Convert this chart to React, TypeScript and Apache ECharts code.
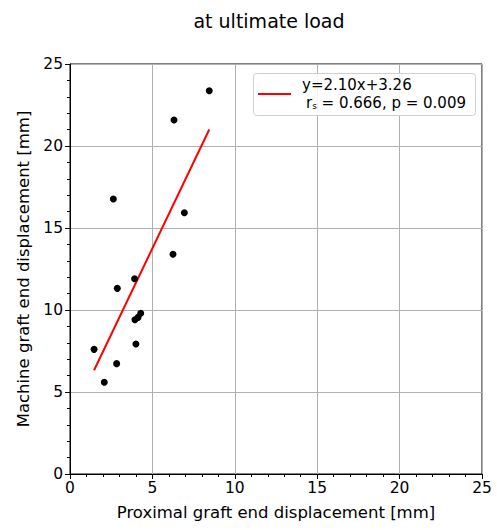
import React, { useEffect, useRef } from "react";
import * as echarts from "echarts";

// Measured displacements at ultimate load [mm]
const proximal = [8.45, 6.31, 2.63, 6.94, 6.25, 3.92, 2.87, 4.29, 4.13, 3.94, 4.0, 1.46, 2.83, 2.08];
const machine = [23.37, 21.58, 16.77, 15.93, 13.4, 11.91, 11.32, 9.8, 9.55, 9.41, 7.93, 7.6, 6.73, 5.59];

// Linear fit and Spearman statistics
const slope = 2.1;
const intercept = 3.26;
const rs = 0.666;
const pValue = 0.009;

const axisTicks = [0, 5, 10, 15, 20, 25];

const FONT = "DejaVu Sans";

export default function App() {
  const ref = useRef<HTMLDivElement>(null);

  useEffect(() => {
    if (!ref.current) return;
    const chart = echarts.init(ref.current, undefined, { renderer: "svg" });

    const points = proximal.map((x, i) => [x, machine[i]]);
    const xMin = Math.min(...proximal);
    const xMax = Math.max(...proximal);
    const fitLine = [
      [xMin, slope * xMin + intercept],
      [xMax, slope * xMax + intercept],
    ];

    const axisCommon = {
      min: axisTicks[0],
      max: axisTicks[axisTicks.length - 1],
      interval: 5,
      axisLine: { show: true, onZero: false, lineStyle: { color: "#000", width: 1 } },
      axisTick: { show: true, length: 5, inside: false, lineStyle: { color: "#000" } },
      minorTick: { show: true, splitNumber: 5, length: 3, lineStyle: { color: "#000" } },
      splitLine: { show: true, lineStyle: { color: "#b0b0b0", width: 1 } },
      axisLabel: { fontFamily: FONT, fontSize: 15.5, color: "#000" },
      nameLocation: "middle" as const,
      nameTextStyle: { fontFamily: FONT, fontSize: 16.5, color: "#000" },
    };

    chart.setOption({
      animation: false,
      grid: {
        left: 70,
        right: 15,
        top: 64,
        bottom: 56,
        show: true,
        borderColor: "#000",
        borderWidth: 1,
        backgroundColor: "#fff",
      },
      xAxis: {
        type: "value",
        ...axisCommon,
        axisLabel: { ...axisCommon.axisLabel, margin: 6 },
        name: "Proximal graft end displacement [mm]",
        nameGap: 30,
      },
      yAxis: {
        type: "value",
        ...axisCommon,
        axisLabel: { ...axisCommon.axisLabel, margin: 7 },
        name: "Machine graft end displacement [mm]",
        nameGap: 38,
      },
      series: [
        {
          type: "scatter",
          data: points,
          symbol: "circle",
          symbolSize: 7,
          itemStyle: { color: "#000", opacity: 1 },
          z: 3,
        },
        {
          type: "line",
          data: fitLine,
          symbol: "none",
          lineStyle: { color: "#ff0000", width: 2 },
          z: 2,
        },
      ],
      graphic: [
        {
          type: "text",
          x: 269,
          y: 21,
          style: {
            text: "at ultimate load",
            font: `19px '${FONT}'`,
            fill: "#000",
            textAlign: "center",
            textVerticalAlign: "middle",
          },
        },
        {
          type: "rect",
          shape: { x: 253.5, y: 73.5, width: 222, height: 42, r: 3 },
          style: { fill: "rgba(255,255,255,0.85)", stroke: "#d0d0d0", lineWidth: 1 },
          z: 10,
        },
        {
          type: "line",
          shape: { x1: 258, y1: 94, x2: 291, y2: 94 },
          style: { stroke: "#ff0000", lineWidth: 2 },
          z: 11,
        },
        {
          type: "text",
          x: 302,
          y: 85,
          z: 11,
          style: {
            text: `y=${slope.toFixed(2)}x+${intercept.toFixed(2)}`,
            font: `15px '${FONT}'`,
            fill: "#000",
            textVerticalAlign: "middle",
          },
        },
        {
          type: "text",
          x: 306,
          y: 103,
          z: 11,
          style: {
            text: `{r|r}{s|s}{t| = ${rs.toFixed(3)}, p = ${pValue.toFixed(3)}}`,
            fill: "#000",
            textVerticalAlign: "middle",
            rich: {
              r: { fontFamily: FONT, fontSize: 15, fill: "#000" },
              s: { fontFamily: FONT, fontSize: 9, fill: "#000", padding: [6, 0, 0, 0] },
              t: { fontFamily: FONT, fontSize: 15, fill: "#000" },
            },
          },
        },
      ],
    });

    return () => chart.dispose();
  }, []);

  return (
    <div
      ref={ref}
      style={{ position: "fixed", left: 0, top: 0, width: 497, height: 530, background: "#fff" }}
    />
  );
}
